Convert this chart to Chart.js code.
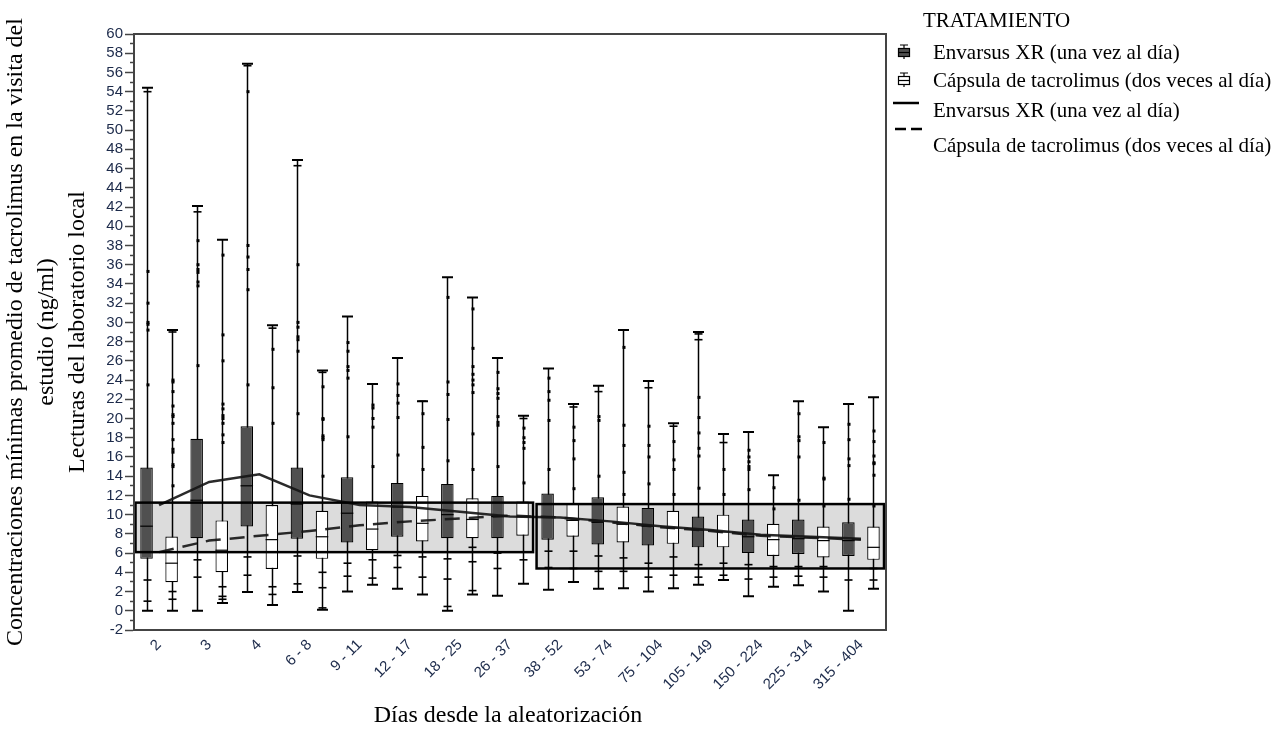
<!DOCTYPE html>
<html>
<head>
<meta charset="utf-8">
<script src="https://cdn.jsdelivr.net/npm/chart.js@4.4.1/dist/chart.umd.min.js"></script>
<style>
  html, body { margin: 0; padding: 0; background: #ffffff; }
  #wrap { position: relative; width: 1279px; height: 730px; }
</style>
</head>
<body>
<div id="wrap"><canvas id="c" width="1279" height="730"></canvas></div>
<script>
// ---------------- DATA ----------------
const categories = ['2', '3', '4', '6 - 8', '9 - 11', '12 - 17', '18 - 25', '26 - 37', '38 - 52', '53 - 74', '75 - 104', '105 - 149', '150 - 224', '225 - 314', '315 - 404'];

const seriesNames = ['Envarsus XR (una vez al día)', 'Cápsula de tacrolimus (dos veces al día)'];

// Envarsus XR (dark boxes)
const envMin    = [0, 0, 1.95, 1.95, 2.0, 2.3, 0, 1.55, 2.2, 2.3, 2.0, 2.7, 1.5, 2.65, 0.0];
const envQ1     = [5.4, 7.55, 8.77, 7.5, 7.1, 7.7, 7.55, 7.55, 7.4, 6.9, 6.8, 6.6, 6.0, 5.9, 5.7];
const envMedian = [8.8, 11.5, 13.0, 11.1, 10.15, 10.8, 10.0, 9.8, 9.8, 9.2, 8.8, 8.4, 7.7, 7.5, 7.3];
const envQ3     = [14.9, 17.9, 19.2, 14.9, 13.9, 13.3, 13.2, 11.95, 12.2, 11.8, 10.7, 9.8, 9.5, 9.5, 9.2];
const envMax    = [54.4, 42.1, 56.9, 46.9, 30.6, 26.3, 34.7, 26.3, 25.2, 23.4, 23.9, 29.0, 18.6, 21.8, 21.5];
const envMean   = [11.0, 13.4, 14.2, 12.0, 11.0, 10.8, 10.3, 9.8, 9.7, 9.3, 8.8, 8.4, 7.9, 7.7, 7.5];
const envPoints = [
  [54.0, 35.3, 32.0, 30.0, 29.8, 29.2, 23.5, 3.2, 1.0],
  [41.5, 38.5, 36.0, 35.5, 35.2, 34.2, 33.8, 25.5, 5.3, 3.5],
  [56.7, 54.0, 38.0, 36.8, 35.5, 33.4, 23.5, 5.6, 3.7],
  [46.3, 36.0, 30.0, 29.5, 28.5, 28.2, 27.0, 20.5, 5.7, 2.8],
  [27.9, 27.0, 25.4, 25.0, 24.2, 18.1, 4.95, 3.6],
  [23.6, 22.4, 21.6, 20.1, 16.2, 5.75, 4.5],
  [32.6, 23.8, 22.5, 19.9, 15.6, 5.4, 3.3, 0.45],
  [24.8, 23.1, 22.6, 22.1, 20.2, 19.6, 19.3, 15.0, 6.0, 4.4],
  [24.2, 22.8, 21.9, 19.8, 14.7, 6.2, 4.5],
  [22.8, 20.2, 19.8, 14.0, 5.7, 4.1],
  [23.2, 19.2, 17.2, 16.0, 13.2, 4.95, 3.5],
  [28.8, 28.2, 22.2, 20.1, 18.5, 16.9, 16.1, 12.75, 4.8, 3.5],
  [16.7, 16.0, 15.5, 15.0, 14.7, 12.6, 4.8, 3.3],
  [20.5, 18.1, 17.7, 16.0, 11.5, 4.6, 3.6],
  [19.4, 17.8, 15.8, 15.1, 11.6, 3.2]
];

// Cápsula de tacrolimus (white boxes)
const tacMin    = [0, 0.8, 0.6, 0.1, 2.7, 1.7, 1.7, 2.8, 3.0, 2.35, 2.35, 3.2, 2.5, 2.0, 2.3];
const tacQ1     = [2.98, 4.0, 4.35, 5.4, 6.3, 7.2, 7.55, 7.8, 7.7, 7.1, 6.96, 6.6, 5.7, 5.55, 5.3];
const tacMedian = [4.95, 6.3, 7.4, 7.7, 8.5, 9.1, 9.5, 9.8, 9.4, 9.0, 8.6, 8.2, 7.4, 7.3, 6.6];
const tacQ3     = [7.72, 9.4, 11.0, 10.4, 11.36, 11.95, 11.7, 11.36, 11.2, 10.85, 10.4, 10.0, 9.04, 8.77, 8.77];
const tacMax    = [29.2, 38.6, 29.7, 25.0, 23.6, 21.8, 32.6, 20.3, 21.5, 29.2, 19.5, 18.4, 14.1, 19.1, 22.2];
const tacMean   = [6.1, 7.3, 7.8, 8.3, 8.9, 9.3, 9.6, 9.9, 9.7, 9.2, 8.7, 8.3, 7.8, 7.6, 7.4];
const tacPoints = [
  [29.0, 24.0, 23.8, 22.8, 21.3, 20.4, 20.2, 19.5, 17.8, 16.8, 16.5, 15.2, 15.0, 13.0, 2.0, 1.2],
  [37.0, 28.7, 26.0, 21.5, 21.0, 20.3, 20.0, 19.5, 18.3, 17.5, 2.5, 1.5, 1.2],
  [29.4, 27.2, 23.2, 19.5, 2.5, 1.7],
  [24.8, 23.3, 20.0, 19.9, 18.2, 18.0, 17.8, 14.0, 4.0, 2.4, 0.3],
  [21.4, 21.1, 20.0, 19.1, 15.0, 5.3, 3.4],
  [21.8, 20.5, 17.0, 14.7, 5.6, 3.5],
  [31.4, 27.3, 25.4, 24.6, 24.0, 23.5, 22.7, 18.4, 14.7, 6.6, 5.1, 2.1],
  [20.0, 19.0, 18.0, 17.5, 16.9, 13.3, 5.3],
  [21.2, 19.1, 17.7, 15.8, 12.7, 6.2, 4.4],
  [27.4, 19.3, 17.2, 14.4, 12.1, 5.5, 4.1],
  [19.2, 17.6, 15.7, 14.7, 12.1, 5.6, 3.7],
  [17.5, 14.7, 12.1, 4.95, 3.7],
  [12.8, 10.6, 4.6, 3.5],
  [17.5, 13.8, 13.7, 10.9, 4.6, 3.5],
  [18.7, 17.6, 16.1, 15.4, 15.3, 14.1, 10.9, 4.4, 3.2]
];

// Shaded target ranges (category index span, value range)
const rangeStart = [0, 8];
const rangeEnd   = [7, 14];
const rangeLow   = [6.1, 4.4];
const rangeHigh  = [11.25, 11.1];

// Axis
const yMin = -2, yMax = 60, yStep = 1;

// Texts
const yTitleLines = ['Concentraciones mínimas promedio de tacrolimus en la visita del', 'estudio (ng/ml)', 'Lecturas del laboratorio local'];
const xTitle = 'Días desde la aleatorización';
const legendTitle = 'TRATAMIENTO';

// ---------------- CHART ----------------
const boxStats = [
  {min: envMin, q1: envQ1, med: envMedian, q3: envQ3, max: envMax, pts: envPoints},
  {min: tacMin, q1: tacQ1, med: tacMedian, q3: tacQ3, max: tacMax, pts: tacPoints}
];

const SERIF = '"Liberation Serif", "Times New Roman", serif';
const SANS = '"Liberation Sans", Arial, sans-serif';

const boxPlugin = {
  id: 'boxPlot',
  beforeDatasetsDraw(chart) {
    const {ctx, scales: {x, y}} = chart;
    const half = (x.getPixelForValue(1) - x.getPixelForValue(0)) / 2;
    ctx.save();
    // shaded ranges
    ctx.fillStyle = '#dcdcdc';
    for (let r = 0; r < rangeStart.length; r++) {
      const x0 = x.getPixelForValue(rangeStart[r]) - half + 1.5;
      const x1 = x.getPixelForValue(rangeEnd[r]) + half - 2;
      const y0 = y.getPixelForValue(rangeHigh[r]);
      const y1 = y.getPixelForValue(rangeLow[r]);
      ctx.fillRect(x0, y0, x1 - x0, y1 - y0);
    }
    // whiskers
    ctx.strokeStyle = '#000';
    boxStats.forEach((s, di) => {
      const meta = chart.getDatasetMeta(di);
      meta.data.forEach((bar, i) => {
        const cx = Math.round(bar.x) + 0.5;
        const yLo = y.getPixelForValue(s.min[i]);
        const yHi = y.getPixelForValue(s.max[i]);
        ctx.lineWidth = 1.5;
        ctx.beginPath(); ctx.moveTo(cx, yLo); ctx.lineTo(cx, yHi); ctx.stroke();
        ctx.lineWidth = 2;
        ctx.beginPath();
        ctx.moveTo(cx - 5.5, yLo); ctx.lineTo(cx + 5.5, yLo);
        ctx.moveTo(cx - 5.5, yHi); ctx.lineTo(cx + 5.5, yHi);
        ctx.stroke();
      });
    });
    ctx.restore();
  },
  afterDatasetDraw(chart, args) {
    if (args.index > 1) return;
    const {ctx, scales: {y}} = chart;
    const s = boxStats[args.index];
    ctx.save();
    ctx.strokeStyle = '#000';
    ctx.lineWidth = 1.2;
    args.meta.data.forEach((bar, i) => {
      const py = y.getPixelForValue(s.med[i]);
      ctx.beginPath();
      ctx.moveTo(bar.x - bar.width / 2, py);
      ctx.lineTo(bar.x + bar.width / 2, py);
      ctx.stroke();
    });
    // data points
    ctx.fillStyle = '#000';
    args.meta.data.forEach((bar, i) => {
      const cx = Math.round(bar.x) + 0.5;
      s.pts[i].forEach(v => {
        const py = y.getPixelForValue(v);
        if (v < s.q1[i] || s.max[i] - v < 1) {
          ctx.fillRect(cx - 4, py - 0.8, 8, 1.6);
        } else {
          ctx.fillRect(cx - 1, py - 1.5, 3, 3);
        }
      });
    });
    ctx.restore();
  },
  afterDatasetsDraw(chart) {
    const {ctx, chartArea: ca, scales: {x, y}} = chart;
    const half = (x.getPixelForValue(1) - x.getPixelForValue(0)) / 2;
    ctx.save();
    ctx.strokeStyle = '#000';
    ctx.lineWidth = 2.5;
    for (let r = 0; r < rangeStart.length; r++) {
      const x0 = x.getPixelForValue(rangeStart[r]) - half + 1.5;
      const x1 = x.getPixelForValue(rangeEnd[r]) + half - 2;
      const y0 = y.getPixelForValue(rangeHigh[r]);
      const y1 = y.getPixelForValue(rangeLow[r]);
      ctx.strokeRect(x0, y0, x1 - x0, y1 - y0);
    }
    // frame
    ctx.strokeStyle = '#444';
    ctx.lineWidth = 2;
    ctx.strokeRect(ca.left, ca.top, ca.right - ca.left, ca.bottom - ca.top);
    ctx.restore();
  },
  afterDraw(chart) {
    const {ctx, chartArea: ca} = chart;
    ctx.save();
    ctx.fillStyle = '#000';
    ctx.font = '24px ' + SERIF;
    ctx.textAlign = 'center';
    ctx.textBaseline = 'middle';
    // Y title
    const cy = (ca.top + ca.bottom) / 2;
    const xs = [16, 47, 78];
    yTitleLines.forEach((t, k) => {
      ctx.save();
      ctx.translate(xs[k], cy);
      ctx.rotate(-Math.PI / 2);
      ctx.fillText(t, 0, 0);
      ctx.restore();
    });
    // X title
    ctx.fillText(xTitle, (ca.left + ca.right) / 2 - 2, 716);
    // Legend
    ctx.font = '21px ' + SERIF;
    ctx.textAlign = 'left';
    ctx.fillText(legendTitle, 923, 21);
    const tx = 933;
    ctx.fillText(seriesNames[0], tx, 53);
    ctx.fillText(seriesNames[1], tx, 81);
    ctx.fillText(seriesNames[0], tx, 111);
    ctx.fillText(seriesNames[1], tx, 146);
    // symbols
    ctx.strokeStyle = '#000';
    ctx.lineWidth = 1.2;
    const sym = (cy0, fill) => {
      ctx.beginPath(); ctx.moveTo(904, cy0 - 7); ctx.lineTo(904, cy0 + 7);
      ctx.moveTo(900, cy0 - 7); ctx.lineTo(908, cy0 - 7); ctx.stroke();
      ctx.fillStyle = fill;
      ctx.fillRect(898.5, cy0 - 3.5, 11, 8);
      ctx.strokeRect(898.5, cy0 - 3.5, 11, 8);
      ctx.beginPath(); ctx.moveTo(898.5, cy0 + 0.5); ctx.lineTo(909.5, cy0 + 0.5); ctx.stroke();
    };
    sym(52, '#505050');
    sym(80, '#ffffff');
    ctx.lineWidth = 2.5;
    ctx.beginPath(); ctx.moveTo(893, 103); ctx.lineTo(919, 103); ctx.stroke();
    ctx.setLineDash([11, 5]);
    ctx.beginPath(); ctx.moveTo(895, 129); ctx.lineTo(926, 129); ctx.stroke();
    ctx.restore();
  }
};

new Chart(document.getElementById('c'), {
  type: 'bar',
  data: {
    labels: categories,
    datasets: [
      {
        label: seriesNames[0],
        data: envQ1.map((v, i) => [v, envQ3[i]]),
        backgroundColor: '#505050',
        borderColor: '#000',
        borderWidth: 1.2,
        borderSkipped: false,
        categoryPercentage: 1.0,
        barPercentage: 0.5,
        order: 2
      },
      {
        label: seriesNames[1],
        data: tacQ1.map((v, i) => [v, tacQ3[i]]),
        backgroundColor: '#ffffff',
        borderColor: '#000',
        borderWidth: 1.2,
        borderSkipped: false,
        categoryPercentage: 1.0,
        barPercentage: 0.5,
        order: 2
      },
      {
        type: 'line',
        label: seriesNames[0],
        data: envMean,
        borderColor: 'rgba(20,20,20,0.9)',
        borderWidth: 2.5,
        pointRadius: 0,
        tension: 0,
        fill: false,
        order: 0
      },
      {
        type: 'line',
        label: seriesNames[1],
        data: tacMean,
        borderColor: 'rgba(20,20,20,0.9)',
        borderWidth: 2.5,
        borderDash: [15, 9],
        pointRadius: 0,
        tension: 0,
        fill: false,
        order: 0
      }
    ]
  },
  options: {
    responsive: false,
    animation: false,
    devicePixelRatio: 1,
    layout: { padding: { left: 0, top: 34, right: 393, bottom: 0 } },
    plugins: { legend: { display: false }, tooltip: { enabled: false } },
    scales: {
      x: {
        type: 'category',
        offset: true,
        grid: { display: false, drawTicks: false },
        border: { display: true, color: '#444', width: 2 },
        ticks: {
          autoSkip: false,
          maxRotation: 45,
          minRotation: 45,
          padding: 6,
          color: '#1c2a4a',
          font: { family: SANS, size: 15 }
        },
        afterFit: s => { s.height = 100; }
      },
      y: {
        min: yMin,
        max: yMax,
        grid: {
          drawOnChartArea: false,
          drawTicks: true,
          tickLength: 9,
          tickColor: '#444',
          tickWidth: 1.5,
          tickBorderDash: c => (Math.abs(c.tick.value) % 2 === 1 ? [5, 5] : []),
          tickBorderDashOffset: c => (Math.abs(c.tick.value) % 2 === 1 ? 5 : 0)
        },
        border: { display: true, color: '#444', width: 2 },
        ticks: {
          stepSize: yStep,
          autoSkip: false,
          padding: 2,
          color: '#1c2a4a',
          font: { family: SANS, size: 15 },
          callback: v => (Math.abs(v) % 2 === 0 ? String(v) : '')
        },
        afterFit: s => { s.width = 134; }
      }
    }
  },
  plugins: [boxPlugin]
});
</script>
</body>
</html>
